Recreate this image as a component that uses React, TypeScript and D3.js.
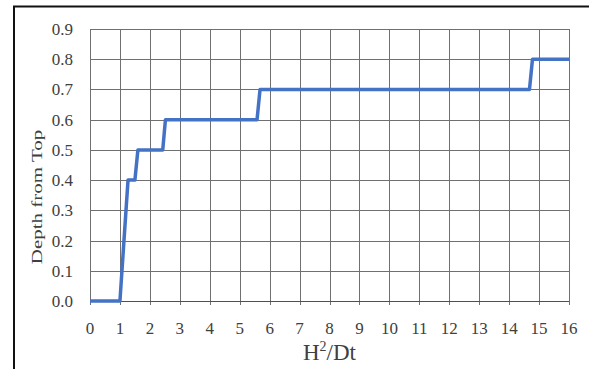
import React, { useEffect, useRef } from 'react';
import * as d3 from 'd3';

// Step curve (H²/Dt vs depth from top)
const xValues = [0, 1, 1.27, 1.5, 1.6, 2.43, 2.52, 5.58, 5.68, 14.68, 14.78, 16];
const depthValues = [0, 0, 0.4, 0.4, 0.5, 0.5, 0.6, 0.6, 0.7, 0.7, 0.8, 0.8];

const xTicks = d3.range(0, 17, 1);
const yTicks = d3.range(0, 10, 1).map(i => i / 10);

function App() {
  const svgRef = useRef<SVGSVGElement>(null);

  useEffect(() => {
    const width = 589;
    const height = 369;
    const margin = { top: 29, right: 20, bottom: 68, left: 90 };
    const innerWidth = width - margin.left - margin.right;
    const innerHeight = height - margin.top - margin.bottom;

    const svg = d3.select(svgRef.current)
      .attr('width', width)
      .attr('height', height);

    svg.selectAll('*').remove();

    svg.append('rect')
      .attr('width', width)
      .attr('height', height)
      .attr('fill', '#fff');

    // frame around the figure (top and left only visible)
    svg.append('line')
      .attr('x1', 13).attr('x2', width)
      .attr('y1', 6.5).attr('y2', 6.5)
      .attr('stroke', '#111').attr('stroke-width', 2);
    svg.append('line')
      .attr('x1', 14).attr('x2', 14)
      .attr('y1', 6).attr('y2', height)
      .attr('stroke', '#111').attr('stroke-width', 2);

    const g = svg.append('g')
      .attr('transform', `translate(${margin.left},${margin.top})`);

    const xScale = d3.scaleLinear().domain([0, 16]).range([0, innerWidth]);
    const yScale = d3.scaleLinear().domain([0, 0.9]).range([innerHeight, 0]);

    // grid
    g.selectAll('.vgrid')
      .data(xTicks)
      .enter()
      .append('line')
      .attr('x1', d => Math.round(xScale(d)) + 0.5)
      .attr('x2', d => Math.round(xScale(d)) + 0.5)
      .attr('y1', 0)
      .attr('y2', innerHeight + 4)
      .attr('stroke', '#707070')
      .attr('stroke-width', 1);

    g.selectAll('.hgrid')
      .data(yTicks)
      .enter()
      .append('line')
      .attr('x1', 0)
      .attr('x2', innerWidth)
      .attr('y1', d => Math.round(yScale(d)) + 0.5)
      .attr('y2', d => Math.round(yScale(d)) + 0.5)
      .attr('stroke', d => d === 0 ? '#505050' : '#707070')
      .attr('stroke-width', 1);

    // tick labels
    g.selectAll('.ylab')
      .data(yTicks)
      .enter()
      .append('text')
      .attr('x', -17)
      .attr('y', d => yScale(d) + 6)
      .attr('text-anchor', 'end')
      .attr('font-family', '"Liberation Serif", "Times New Roman", serif')
      .attr('font-size', '17px')
      .attr('fill', '#404040')
      .text(d => d.toFixed(1));

    g.selectAll('.xlab')
      .data(xTicks)
      .enter()
      .append('text')
      .attr('x', d => xScale(d))
      .attr('y', innerHeight + 33)
      .attr('text-anchor', 'middle')
      .attr('font-family', '"Liberation Serif", "Times New Roman", serif')
      .attr('font-size', '17px')
      .attr('fill', '#404040')
      .text(d => d);

    // axis titles
    const xTitle = g.append('text')
      .attr('x', innerWidth / 2)
      .attr('y', innerHeight + 59)
      .attr('text-anchor', 'middle')
      .attr('font-family', '"Liberation Serif", "Times New Roman", serif')
      .attr('font-size', '23px')
      .attr('fill', '#404040');
    xTitle.append('tspan').text('H');
    xTitle.append('tspan').attr('dy', -9).attr('font-size', '14px').text('2');
    xTitle.append('tspan').attr('dy', 9).text('/Dt');

    // y title is narrow in the picture, squeeze it across
    svg.append('text')
      .attr('transform', `translate(42,197) scale(0.72,1) rotate(-90)`)
      .attr('text-anchor', 'middle')
      .attr('font-family', '"Liberation Serif", "Times New Roman", serif')
      .attr('font-size', '21px')
      .attr('fill', '#404040')
      .text('Depth from Top');

    // data line
    const points = xValues.map((x, i) => [x, depthValues[i]] as [number, number]);
    const line = d3.line<[number, number]>()
      .x(d => xScale(d[0]))
      .y(d => yScale(d[1]));

    g.append('path')
      .datum(points)
      .attr('d', line)
      .attr('fill', 'none')
      .attr('stroke', '#4472C4')
      .attr('stroke-width', 3.5)
      .attr('stroke-linejoin', 'round');
  }, []);

  return (
    <div style={{ position: 'absolute', left: 0, top: 0 }}>
      <svg ref={svgRef} style={{ display: 'block' }}></svg>
    </div>
  );
}

export default App;
